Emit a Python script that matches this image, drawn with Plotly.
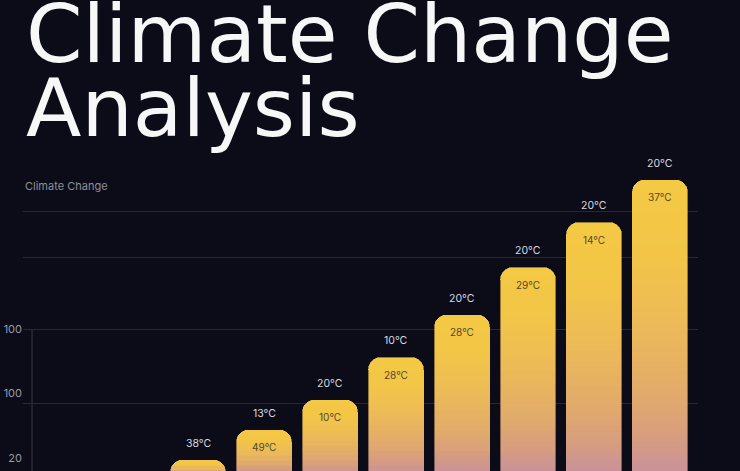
import plotly.graph_objects as go

# ---------------- data ----------------
categories = ["P1", "P2", "P3", "P4", "P5", "P6", "P7", "P8"]
values = [24, 36, 48, 65, 82, 101, 119, 136]
top_labels = ["38°C", "13°C", "20°C", "10°C", "20°C", "20°C", "20°C", "20°C"]
inner_labels = ["20°C", "49°C", "10°C", "28°C", "28°C", "29°C", "14°C", "37°C"]
ytick_vals = [24.8, 50.8, 76.4]
ytick_text = ["20", "100", "100"]
grid_vals = [46.8, 76.4, 105.2, 123.6]

# ---------------- style ----------------
BG = "#0b0c17"
GRID = "#262837"
Y_RANGE = [19.6, 148]
X_RANGE = [-2.652, 7.576]
AXIS_X = -2.515
AXIS_TOP = 76.4
GRAD_END = 18.4  # where each bar's gradient reaches its last colour
# gradient along each bar: 0 = bar top, 1 = bottom of the visible bar
GRAD = [(0.0, "#f4c943"), (0.25, "#f2c548"), (0.45, "#edbc55"), (0.6, "#e7b360"),
        (0.75, "#e0a96e"), (0.88, "#d69c80"), (1.0, "#c8909c")]


def hex2rgb(h):
    h = h.lstrip("#")
    return tuple(int(h[i:i + 2], 16) for i in (0, 2, 4))


def grad_color(t):
    t = max(0.0, min(1.0, t))
    for (a, ca), (b, cb) in zip(GRAD[:-1], GRAD[1:]):
        if a <= t <= b:
            f = (t - a) / (b - a)
            r1, g1, b1 = hex2rgb(ca)
            r2, g2, b2 = hex2rgb(cb)
            return "rgb(%d,%d,%d)" % (round(r1 + (r2 - r1) * f),
                                      round(g1 + (g2 - g1) * f),
                                      round(b1 + (b2 - b1) * f))
    return GRAD[-1][1]


edges = [0, 18] + [18 + 2 * i for i in range(1, 61)]
fig = go.Figure()
for lo, hi in zip(edges[:-1], edges[1:]):
    seg = [(min(v, hi) - lo) if v > lo else None for v in values]
    mid = (lo + hi) / 2
    cols = [grad_color((v - min(mid, v)) / (v - GRAD_END)) for v in values]
    fig.add_trace(go.Bar(
        x=categories, y=seg, marker=dict(color=cols, line=dict(width=0.6, color=cols),
                                         cornerradius=12),
        hoverinfo="skip", showlegend=False))

# axis dot
fig.add_trace(go.Scatter(x=[AXIS_X], y=[AXIS_TOP], mode="markers",
                         marker=dict(size=8, color="#5e5f6c"),
                         hoverinfo="skip", showlegend=False))

annotations = []
for c, v, tl, il in zip(categories, values, top_labels, inner_labels):
    annotations.append(dict(x=c, y=v, xref="x", yref="y", text=tl, showarrow=False,
                            yshift=17, font=dict(family="Inter", size=10.5, color="#d9d9e3")))
    annotations.append(dict(x=c, y=v, xref="x", yref="y", text=il, showarrow=False,
                            yshift=-17, font=dict(family="Inter", size=10, color="#54482a")))

PLOT_H = 321.0
def py(p):
    return (471 - p) / PLOT_H

annotations += [
    dict(x=0.0015, y=py(34), xref="paper", yref="paper", xanchor="left", yanchor="middle",
         text="Climate Change", showarrow=False,
         font=dict(family="DejaVu Sans", size=81, color="#f7f7f7")),
    dict(x=0.0015, y=py(108.5), xref="paper", yref="paper", xanchor="left", yanchor="middle",
         text="Analysis", showarrow=False,
         font=dict(family="DejaVu Sans", size=81, color="#f7f7f7")),
    dict(x=0.0, y=py(186), xref="paper", yref="paper", xanchor="left", yanchor="middle",
         text="Climate Change", showarrow=False,
         font=dict(family="Inter", size=11, color="#8e8f9d")),
]

fig.update_layout(
    width=740, height=471,
    margin=dict(l=23, r=42, t=150, b=0, autoexpand=False),
    paper_bgcolor=BG, plot_bgcolor=BG,
    barmode="stack", bargap=0.1667,
    annotations=annotations,
    shapes=[dict(type="line", xref="x", yref="y", x0=AXIS_X, x1=AXIS_X,
                 y0=AXIS_TOP, y1=Y_RANGE[0] - 5, line=dict(color="#3a3b4a", width=1),
                 layer="below")],
    xaxis=dict(range=X_RANGE, visible=False, type="category"),
    yaxis=dict(range=Y_RANGE, tickmode="array", tickvals=ytick_vals, ticktext=ytick_text,
               showgrid=False, zeroline=False, showline=False, ticks="",
               tickfont=dict(family="Inter", size=11, color="#9a9aa8"),
               automargin=False, ticklabelstandoff=0,
               minor=dict(tickmode="array", tickvals=grid_vals, showgrid=True,
                          gridcolor=GRID, gridwidth=1, ticks="")),
)

fig.write_html("out.html", config={"displayModeBar": False},
               post_script="document.body.style.margin='0';"
                           "document.body.style.background='%s';" % BG)
